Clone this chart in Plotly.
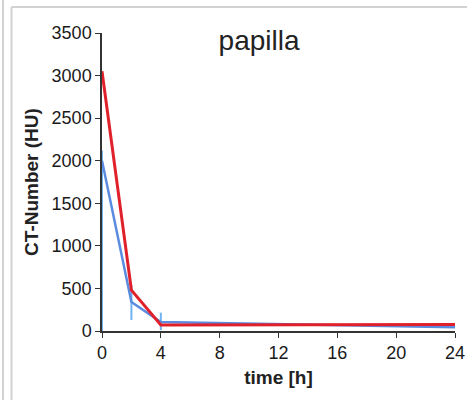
import plotly.graph_objects as go

time_h = [0, 2, 4, 24]
red_ct = [3050, 480, 70, 75]
blue_ct = [2000, 340, 105, 45]
blue_err_plus = [120, 200, 110, 10]
blue_err_minus = [2000, 210, 95, 10]

x_ticks = [0, 4, 8, 12, 16, 20, 24]
y_ticks = [0, 500, 1000, 1500, 2000, 2500, 3000, 3500]

fig = go.Figure()
fig.add_trace(go.Scatter(
    x=time_h, y=blue_ct, mode="lines",
    line=dict(color="#5a8be0", width=2.5),
    error_y=dict(type="data", array=blue_err_plus, arrayminus=blue_err_minus,
                 color="#6fb3f2", thickness=2, width=0),
    showlegend=False, cliponaxis=False))
fig.add_trace(go.Scatter(
    x=time_h, y=red_ct, mode="lines",
    line=dict(color="#e0212b", width=3),
    showlegend=False, cliponaxis=False))

tickfont = dict(family="Liberation Sans, Arial", size=18, color="#1a1a1a")
ML, MR, MT, MB = 102, 12, 33, 69
fig.update_layout(
    width=467, height=400,
    margin=dict(l=ML, r=MR, t=MT, b=MB, autoexpand=False),
    paper_bgcolor="white", plot_bgcolor="white",
    title=dict(text="papilla", xref="paper", x=0.445, xanchor="center", y=0.9, yanchor="middle",
               font=dict(family="Liberation Sans, Arial", size=28, color="#222")),
    xaxis=dict(range=[0, 24], tickvals=x_ticks, ticktext=[str(v) for v in x_ticks],
               showgrid=False, zeroline=False, showline=True, linecolor="#333", linewidth=1.5,
               ticks="outside", ticklen=5, tickcolor="#333", tickfont=tickfont,
               ticklabeloverflow="allow", automargin=False,
               title=dict(text="<b>time [h]</b>", standoff=8,
                          font=dict(family="Liberation Sans, Arial", size=19, color="#222"))),
    yaxis=dict(range=[0, 3500], tickvals=y_ticks, ticktext=[str(v) for v in y_ticks],
               showgrid=False, zeroline=False, showline=True, linecolor="#333", linewidth=1.5,
               ticks="outside", ticklen=5, tickcolor="#333", tickfont=tickfont,
               automargin=False,
               title=dict(text="<b>CT-Number (HU)</b>", standoff=8,
                          font=dict(family="Liberation Sans, Arial", size=19, color="#222"))),
)
# panel frame lines
frame = dict(color="#d2d2d2", width=2)
pw = 467 - ML - MR
ph = 400 - MT - MB
fig.add_shape(type="line", xref="paper", yref="paper",
              x0=(3 - ML) / pw, x1=(3 - ML) / pw, y0=-MB / ph, y1=MT / ph + 1, line=frame)
fig.add_shape(type="line", xref="paper", yref="paper",
              x0=(11.5 - ML) / pw, x1=(11.5 - ML) / pw, y0=-MB / ph, y1=(MT - 7) / ph + 1, line=frame)
fig.add_shape(type="line", xref="paper", yref="paper",
              x0=(11.5 - ML) / pw, x1=(467 - ML) / pw, y0=(MT - 7) / ph + 1, y1=(MT - 7) / ph + 1, line=frame)

fig.write_html("out.html")
